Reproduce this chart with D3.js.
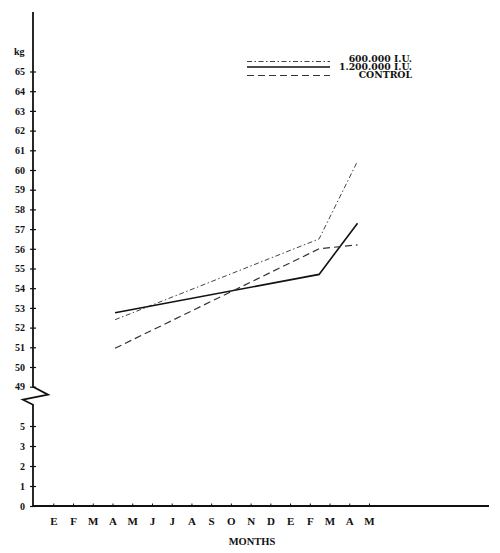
<!DOCTYPE html>
<html>
<head>
<meta charset="utf-8">
<script src="https://cdn.jsdelivr.net/npm/d3@7"></script>
<style>
  html, body { margin: 0; padding: 0; background: #fff; }
  svg { display: block; }
  text { font-family: "Liberation Serif", "DejaVu Serif", serif; font-weight: bold; fill: #111; }
</style>
</head>
<body>
<svg id="chart" width="500" height="553"></svg>
<script>
// ---- data ----
const months = ["E","F","M","A","M","J","J","A","S","O","N","D","E","F","M","A","M"];
const upperTicks = [49,50,51,52,53,54,55,56,57,58,59,60,61,62,63,64,65];
const lowerTicks = [0,1,2,3,4];
const lowerTickLabels = ["0","1","2","3","5"];
const samplePositions = [3.13, 13.47, 15.42];   // month index of measurements
const dose600 = [52.4, 56.5, 60.45];
const dose1200 = [52.75, 54.7, 57.3];
const control = [50.95, 56.0, 56.2];
const seriesNames = ["600.000 I.U.", "1.200.000 I.U.", "CONTROL"];

// ---- layout ----
const svg = d3.select("#chart");
const axisX = 33, axisTop = 12, baseY = 506, axisRight = 489;

const x = d3.scaleLinear().domain([0, 16]).range([53.3, 369]);
const yUp = d3.scaleLinear().domain([49, 65]).range([386.7, 71.5]);
const yLow = d3.scaleLinear().domain([0, 4]).range([baseY, 426]);

// y axis (upper)
const gUp = svg.append("g").attr("transform", `translate(${axisX},0)`)
  .call(d3.axisLeft(yUp).tickValues(upperTicks).tickSize(3).tickPadding(5).tickFormat(d3.format("d")));
gUp.select(".domain").remove();
gUp.selectAll(".tick line").attr("x1", 3).attr("x2", -3).attr("stroke", "#111").attr("stroke-width", 1.2);
gUp.selectAll(".tick text").style("font-size", "10px").attr("font-family", null);

// y axis (lower)
const gLow = svg.append("g").attr("transform", `translate(${axisX},0)`)
  .call(d3.axisLeft(yLow).tickValues(lowerTicks).tickSize(3).tickPadding(5)
    .tickFormat((d, i) => lowerTickLabels[i]));
gLow.select(".domain").remove();
gLow.selectAll(".tick line").attr("x1", 3).attr("x2", -3).attr("stroke", "#111").attr("stroke-width", 1.2);
gLow.selectAll(".tick text").style("font-size", "10px").attr("font-family", null);

// y axis line with break
svg.append("path")
  .attr("d", `M${axisX},${axisTop} L${axisX},${yUp(49)} L${axisX + 15},${yUp(49) + 8} L${axisX - 10},${yUp(49) + 13} L${axisX},${yUp(49) + 18} L${axisX},${baseY}`)
  .attr("fill", "none").attr("stroke", "#111").attr("stroke-width", 1.8).attr("stroke-linejoin", "miter");

// x axis
const gX = svg.append("g").attr("transform", `translate(0,${baseY})`)
  .call(d3.axisBottom(x).tickValues(d3.range(months.length)).tickSize(-2.5).tickPadding(11)
    .tickFormat((d, i) => months[i]));
gX.select(".domain").remove();
gX.selectAll(".tick line").attr("stroke", "#111").attr("stroke-width", 1);
gX.selectAll(".tick text").style("font-size", "11px").attr("font-family", null);
svg.append("line").attr("x1", axisX - 1).attr("x2", axisRight).attr("y1", baseY).attr("y2", baseY)
  .attr("stroke", "#111").attr("stroke-width", 1.8);

// axis titles
svg.append("text").attr("x", 14).attr("y", 55).style("font-size", "10px").text("kg");
svg.append("text").attr("x", 252).attr("y", 545).attr("text-anchor", "middle").style("font-size", "10.5px").text("MONTHS");

// series
const styles = [
  { data: dose600, dash: "5,2.5,1.5,2.5", width: 1, color: "#444" },
  { data: dose1200, dash: null, width: 1.6, color: "#111" },
  { data: control, dash: "7,4", width: 1.2, color: "#333" }
];
const line = d3.line().x(d => x(d[0])).y(d => yUp(d[1]));
styles.forEach(s => {
  svg.append("path")
    .datum(samplePositions.map((p, i) => [p, s.data[i]]))
    .attr("d", line)
    .attr("fill", "none").attr("stroke", s.color).attr("stroke-width", s.width)
    .attr("stroke-dasharray", s.dash);
});

// legend
const legY = [61.5, 67, 75.5];
const legTextY = [61.5, 70, 78];
styles.forEach((s, i) => {
  svg.append("line").attr("x1", 247).attr("x2", 330).attr("y1", legY[i]).attr("y2", legY[i])
    .attr("stroke", s.color).attr("stroke-width", s.width).attr("stroke-dasharray", s.dash);
  svg.append("text").attr("x", 412).attr("y", legTextY[i]).attr("text-anchor", "end")
    .style("font-family", "'DejaVu Serif', serif")
    .style("font-size", "9.3px").text(seriesNames[i]);
});
</script>
</body>
</html>
